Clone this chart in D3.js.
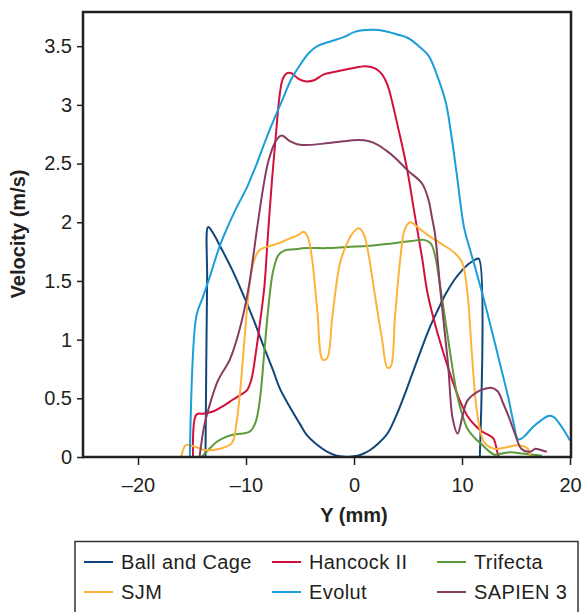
<!DOCTYPE html>
<html lang="en">
<head>
    <meta charset="UTF-8">
    <title>Velocity profiles</title>
    <script src="https://d3js.org/d3.v7.min.js"></script>
    <style>
        body { margin: 0; background: #fff; }
        text { font-family: "Liberation Sans", Arial, sans-serif; fill: #231f20; }
    </style>
</head>
<body>
    <div id="chart"></div>

    <script>
        // data: [Y (mm), velocity (m/s)]
        const ballAndCage = [[-13.75,0],[-13.6,1.5],[-13.5,1.96],[-13,1.9],[-12.25,1.77],[-11.2,1.58],[-10.2,1.37],[-9.3,1.17],[-8.4,0.95],[-7.5,0.74],[-6.85,0.58],[-5.9,0.42],[-5,0.28],[-4.4,0.19],[-3.5,0.11],[-2.5,0.045],[-1.6,0.01],[-0.6,0],[0.3,0.01],[0.9,0.03],[1.5,0.06],[2.3,0.12],[3.1,0.2],[3.9,0.35],[4.6,0.51],[5.4,0.71],[6.2,0.91],[7,1.1],[7.75,1.25],[8.5,1.39],[9.3,1.51],[10,1.59],[10.55,1.64],[11.2,1.68],[11.55,1.69],[11.65,0]];
        const hancock = [[-14.9,0],[-14.6,0.36],[-13.9,0.37],[-13,0.39],[-12,0.44],[-11.2,0.49],[-10.5,0.53],[-9.9,0.57],[-9.5,0.66],[-9.1,0.88],[-8.7,1.15],[-8.3,1.45],[-8,1.85],[-7.6,2.35],[-7.2,2.78],[-6.9,3.07],[-6.6,3.22],[-6.2,3.27],[-5.8,3.27],[-5.1,3.22],[-4.4,3.2],[-3.7,3.21],[-2.8,3.26],[-1.85,3.28],[-0.3,3.31],[1.1,3.33],[2,3.31],[2.6,3.26],[3.1,3.17],[3.6,3.0],[4.1,2.8],[4.9,2.46],[5.65,2.05],[6.3,1.7],[6.8,1.4],[7.75,1.05],[9,0.68],[9.8,0.48],[10.5,0.35],[11.2,0.27],[11.8,0.22],[12.4,0.19],[12.9,0.16],[13.3,0.03],[13.4,0]];
        const trifecta = [[-14.1,0],[-13.4,0.07],[-12.7,0.13],[-11.9,0.17],[-11.2,0.19],[-10.3,0.2],[-9.6,0.22],[-9.1,0.3],[-8.7,0.5],[-8.3,0.9],[-7.9,1.3],[-7.5,1.58],[-7,1.72],[-6.4,1.76],[-5.5,1.77],[-4.4,1.78],[-2.5,1.78],[-0.65,1.79],[1.5,1.8],[3.5,1.82],[5.3,1.84],[6.5,1.85],[7.1,1.82],[7.5,1.72],[7.9,1.5],[8.4,1.2],[8.8,0.95],[9.15,0.74],[9.5,0.55],[9.9,0.4],[10.5,0.24],[11.2,0.16],[11.8,0.11],[12.5,0.05],[13,0.02],[13.7,0.03],[14.5,0.04],[15.5,0.03],[16.5,0.02],[17.4,0.01]];
        const sjm = [[-16,0],[-15.6,0.1],[-15.2,0.1],[-14.5,0.08],[-13.8,0.06],[-12.4,0.07],[-11.3,0.12],[-10.9,0.28],[-10.5,0.6],[-10.1,1.05],[-9.7,1.45],[-9.3,1.66],[-8.8,1.76],[-8.1,1.79],[-7,1.82],[-6,1.86],[-5.2,1.89],[-4.65,1.92],[-4.3,1.88],[-3.9,1.7],[-3.4,1.25],[-2.9,0.83],[-2.5,0.84],[-2,1.2],[-1.3,1.65],[-0.65,1.82],[-0.1,1.91],[0.45,1.95],[0.9,1.9],[1.3,1.75],[1.9,1.4],[2.6,1.0],[3.1,0.76],[3.4,0.77],[3.8,1.2],[4.3,1.7],[4.7,1.94],[5.2,2.0],[6,1.95],[7,1.88],[8.2,1.81],[9.3,1.74],[10,1.66],[10.5,1.4],[10.9,0.9],[11.3,0.45],[11.7,0.22],[12.1,0.12],[13,0.07],[14,0.08],[15.2,0.1],[16.1,0.07],[16.3,0.01]];
        const evolut = [[-15.2,0],[-14.6,1.2],[-14,1.36],[-13.3,1.55],[-12.5,1.78],[-11.8,1.94],[-10.9,2.12],[-9.9,2.3],[-9,2.5],[-8.1,2.72],[-7.3,2.9],[-6.6,3.05],[-5.8,3.22],[-5,3.34],[-4.2,3.44],[-3.4,3.5],[-2.2,3.54],[-0.9,3.58],[0,3.62],[0.8,3.635],[1.75,3.64],[2.8,3.63],[4,3.6],[5,3.57],[6,3.5],[6.9,3.42],[7.7,3.25],[8.5,3.02],[9,2.75],[9.5,2.42],[10.2,1.95],[10.7,1.78],[11.2,1.62],[12,1.35],[12.7,1.1],[13.5,0.8],[14.3,0.5],[14.8,0.28],[15.2,0.15],[15.7,0.17],[16.5,0.25],[17.3,0.31],[18,0.35],[18.5,0.34],[18.9,0.3],[19.5,0.22],[20,0.14]];
        const sapien = [[-14.3,0],[-13.9,0.25],[-13.5,0.4],[-12.6,0.65],[-11.5,0.83],[-10.7,1.05],[-9.8,1.42],[-9,1.93],[-8.4,2.3],[-7.9,2.53],[-7.2,2.7],[-6.7,2.74],[-5.9,2.69],[-5,2.66],[-2.8,2.67],[-1,2.69],[0.4,2.7],[1.4,2.69],[2.2,2.66],[3,2.61],[3.8,2.55],[5,2.44],[6.3,2.33],[6.9,2.19],[7.2,2.05],[7.5,1.9],[8.05,1.37],[8.7,0.8],[9.15,0.32],[9.6,0.2],[10,0.33],[10.5,0.48],[11.5,0.56],[12.1,0.58],[12.7,0.59],[13.3,0.56],[13.8,0.46],[14.3,0.35],[14.9,0.2],[15.5,0.07],[16.3,0.045],[16.8,0.07],[17.3,0.06],[17.85,0.045]];

        const seriesNames = ["Ball and Cage", "Hancock II", "Trifecta", "SJM", "Evolut", "SAPIEN 3"];
        const seriesData = [ballAndCage, hancock, trifecta, sjm, evolut, sapien];
        const seriesColors = ["#12467a", "#d2103c", "#5c9a3a", "#fdb23a", "#1a9ed9", "#873c62"];

        const xTicks = [-20, -10, 0, 10, 20];
        const yTicks = [0, 0.5, 1, 1.5, 2, 2.5, 3, 3.5];

        const W = 584, H = 612;
        const plot = { left: 84, right: 570, top: 11, bottom: 457 };

        const svg = d3.select("#chart")
            .append("svg")
            .attr("width", W)
            .attr("height", H);

        const x = d3.scaleLinear().domain([-25, 20]).range([plot.left, plot.right]);
        const y = d3.scaleLinear().domain([0, 3.8]).range([plot.bottom, plot.top]);

        const fmt = d => (d < 0 ? "\u2013" + Math.abs(d) : String(d));

        const xAxis = svg.append("g")
            .attr("transform", `translate(0,${plot.bottom})`)
            .call(d3.axisBottom(x).tickValues(xTicks).tickFormat(fmt).tickSize(8).tickPadding(13).tickSizeOuter(0));

        const yAxis = svg.append("g")
            .attr("transform", `translate(${plot.left},0)`)
            .call(d3.axisLeft(y).tickValues(yTicks).tickFormat(d => String(d)).tickSize(7).tickPadding(5).tickSizeOuter(0));

        [xAxis, yAxis].forEach(a => {
            a.select(".domain").remove();
            a.selectAll(".tick line").attr("stroke", "#231f20").attr("stroke-width", 1.5);
            a.selectAll(".tick text")
                .style("font-family", '"Liberation Sans", Arial, sans-serif')
                .style("font-size", "20px")
                .attr("fill", "#231f20");
        });

        const line = d3.line()
            .x(d => x(d[0]))
            .y(d => y(d[1]))
            .curve(d3.curveCatmullRom.alpha(0.5));

        svg.append("g")
            .selectAll("path")
            .data(seriesData)
            .join("path")
            .attr("d", line)
            .attr("fill", "none")
            .attr("stroke", (d, i) => seriesColors[i])
            .attr("stroke-width", 2)
            .attr("stroke-linejoin", "round");

        // frame
        svg.append("rect")
            .attr("x", plot.left - 1)
            .attr("y", plot.top + 1)
            .attr("width", plot.right - plot.left + 2)
            .attr("height", plot.bottom - plot.top - 1)
            .attr("fill", "none")
            .attr("stroke", "#231f20")
            .attr("stroke-width", 2.5);

        svg.append("text")
            .attr("x", x(0))
            .attr("y", 522)
            .attr("text-anchor", "middle")
            .style("font-size", "20px")
            .style("font-weight", "bold")
            .text("Y (mm)");

        svg.append("text")
            .attr("transform", `translate(25,${(plot.top + plot.bottom) / 2}) rotate(-90)`)
            .attr("text-anchor", "middle")
            .style("font-size", "20px")
            .style("font-weight", "bold")
            .text("Velocity (m/s)");

        // legend
        svg.append("rect")
            .attr("x", 75)
            .attr("y", 541.5)
            .attr("width", 503)
            .attr("height", 90)
            .attr("fill", "none")
            .attr("stroke", "#333")
            .attr("stroke-width", 1.5);

        const colX = [84, 272, 437];
        const rowY = [562, 592];

        const legend = svg.selectAll(".legend")
            .data(seriesNames)
            .join("g")
            .attr("class", "legend")
            .attr("transform", (d, i) => `translate(${colX[i % 3]},${rowY[Math.floor(i / 3)]})`);

        legend.append("line")
            .attr("x1", 0)
            .attr("x2", 29)
            .attr("stroke", (d, i) => seriesColors[i])
            .attr("stroke-width", 2);

        legend.append("text")
            .attr("x", 37)
            .attr("dy", "0.36em")
            .style("font-size", "20px")
            .style("letter-spacing", "0.4px")
            .text(d => d);
    </script>
</body>
</html>
